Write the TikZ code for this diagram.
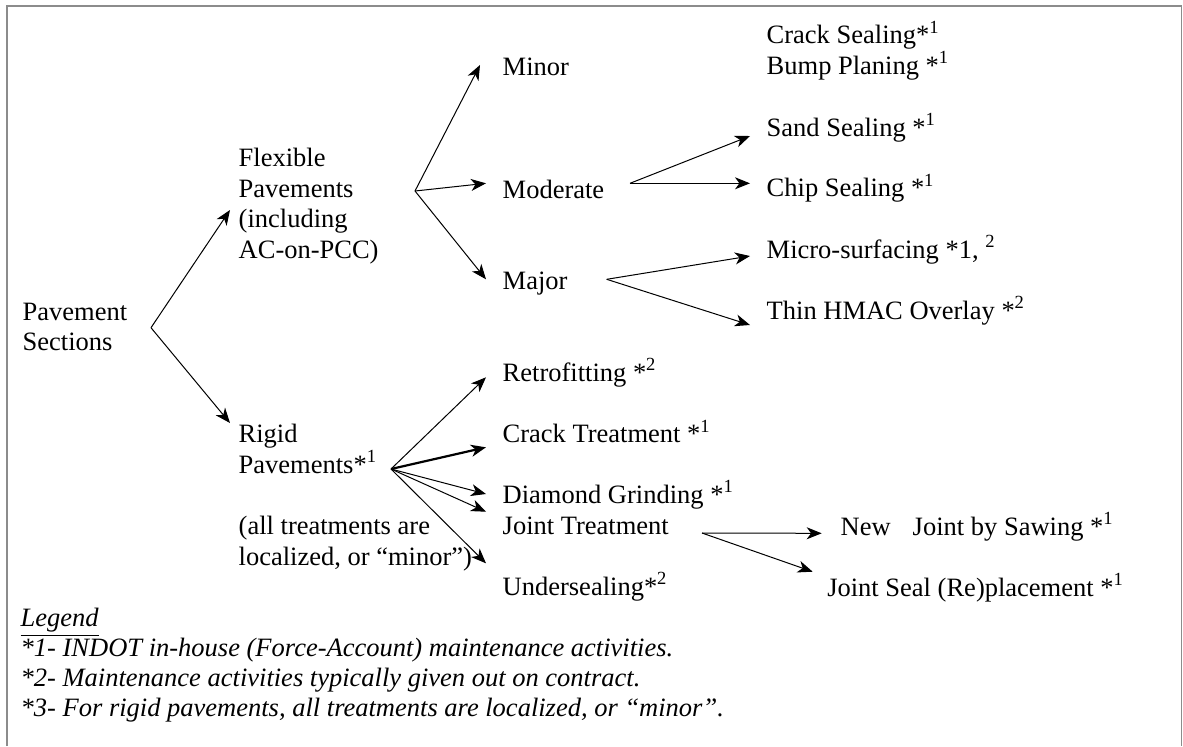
\documentclass[tikz,border=0pt]{standalone}
\usepackage{fontspec}
\setmainfont{Liberation Serif}
\usetikzlibrary{arrows.meta}
\begin{document}
\begin{tikzpicture}[x=0.5pt,y=-0.5pt,
  every node/.style={inner sep=0pt, outer sep=0pt, font=\fontsize{13.25}{15.25}\selectfont, align=left},
  lbl/.style={anchor=base west},
  conn/.style={line width=0.5pt, -{Stealth[length=7.5pt,width=6pt,inset=2.2pt]}},
  thickconn/.style={conn, line width=1.1pt},
  frame/.style={draw=black!45, line width=0.6pt}]
\useasboundingbox (0,0) rectangle (1183,746);
\draw[frame] (7,746) -- (7,6) -- (1181.5,6) -- (1181.5,746);

% text nodes (multi-line nodes are placed by the baseline of their last line)
\node[lbl] (ps) at (22.7,350.7) {Pavement\\Sections};
\node[lbl] (flex) at (238.7,258) {Flexible\\Pavements\\(including\\AC-on-PCC)};
\node[lbl] (rigid) at (238.7,473.3) {Rigid\\Pavements*\textsuperscript{1}};
\node[lbl] (rnote) at (238.7,565) {(all treatments are\\localized, or “minor”)};
\node[lbl] (minor) at (502.7,75) {Minor};
\node[lbl] (moderate) at (502.7,198.3) {Moderate};
\node[lbl] (major) at (502.7,289.3) {Major};
\node[lbl] (crackseal) at (766.7,74) {Crack Sealing*\textsuperscript{1}\\Bump Planing *\textsuperscript{1}};
\node[lbl] (sand) at (766.7,136) {Sand Sealing *\textsuperscript{1}};
\node[lbl] (chip) at (766.7,196.7) {Chip Sealing *\textsuperscript{1}};
\node[lbl] (micro) at (766.7,258.3) {Micro-surfacing *1, \textsuperscript{2}};
\node[lbl] (thin) at (766.7,319.3) {Thin HMAC Overlay *\textsuperscript{2}};
\node[lbl] (retro) at (502.7,381) {Retrofitting *\textsuperscript{2}};
\node[lbl] (cracktr) at (502.7,442.7) {Crack Treatment *\textsuperscript{1}};
\node[lbl] (diamond) at (502.7,503.3) {Diamond Grinding *\textsuperscript{1}};
\node[lbl] (joint) at (502.7,534) {Joint Treatment};
\node[lbl] (under) at (502.7,595) {Undersealing*\textsuperscript{2}};
\node[lbl] (newjoint) at (840.7,535) {New\hspace{11pt}Joint by Sawing *\textsuperscript{1}};
\node[lbl] (seal) at (827.3,596) {Joint Seal (Re)placement *\textsuperscript{1}};
\node[lbl, font=\itshape\fontsize{13.25}{15}\selectfont] (legend) at (20.7,716.7)
  {\underline{Legend}\\*1- INDOT in-house (Force-Account) maintenance activities.\\*2- Maintenance activities typically given out on contract.\\*3- For rigid pavements, all treatments are localized, or “minor”.};

% fork points
\coordinate (fPS) at (151,327.7);
\coordinate (fFlex) at (415,191);
\coordinate (fMod) at (630,183.3);
\coordinate (fMaj) at (606.7,279.3);
\coordinate (fRig) at (391,469);
\coordinate (fJT) at (702,533);

% arrow tips
\coordinate (tFlex) at (230,210);
\coordinate (tRig) at (230,423);
\coordinate (tMinor) at (480,65);
\coordinate (tMod) at (486,183.3);
\coordinate (tMaj) at (486,279.3);
\coordinate (tSand) at (750,136);
\coordinate (tChip) at (750,183.3);
\coordinate (tMicro) at (750,256);
\coordinate (tThin) at (750,325);
\coordinate (tRetro) at (486,377.3);
\coordinate (tCrackT) at (486,447.3);
\coordinate (tDiam) at (486,494);
\coordinate (tJoint) at (486,511.7);
\coordinate (tUnder) at (486,563.3);
\coordinate (tNew) at (821.7,533.3);
\coordinate (tSeal) at (812.7,571.7);

% connectors
\draw[conn] (fPS) -- (tFlex);
\draw[conn] (fPS) -- (tRig);
\draw[conn] (fFlex) -- (tMinor);
\draw[conn] (fFlex) -- (tMod);
\draw[conn] (fFlex) -- (tMaj);
\draw[conn] (fMod) -- (tSand);
\draw[conn] (fMod) -- (tChip);
\draw[conn] (fMaj) -- (tMicro);
\draw[conn] (fMaj) -- (tThin);
\draw[conn] (fRig) -- (tRetro);
\draw[thickconn] (fRig) -- (tCrackT);
\draw[conn] (fRig) -- (tDiam);
\draw[conn] (fRig) -- (tJoint);
\draw[conn] (fRig) -- (tUnder);
\draw[conn] (fJT) -- (tNew);
\draw[conn] (fJT) -- (tSeal);
\end{tikzpicture}
\end{document}
